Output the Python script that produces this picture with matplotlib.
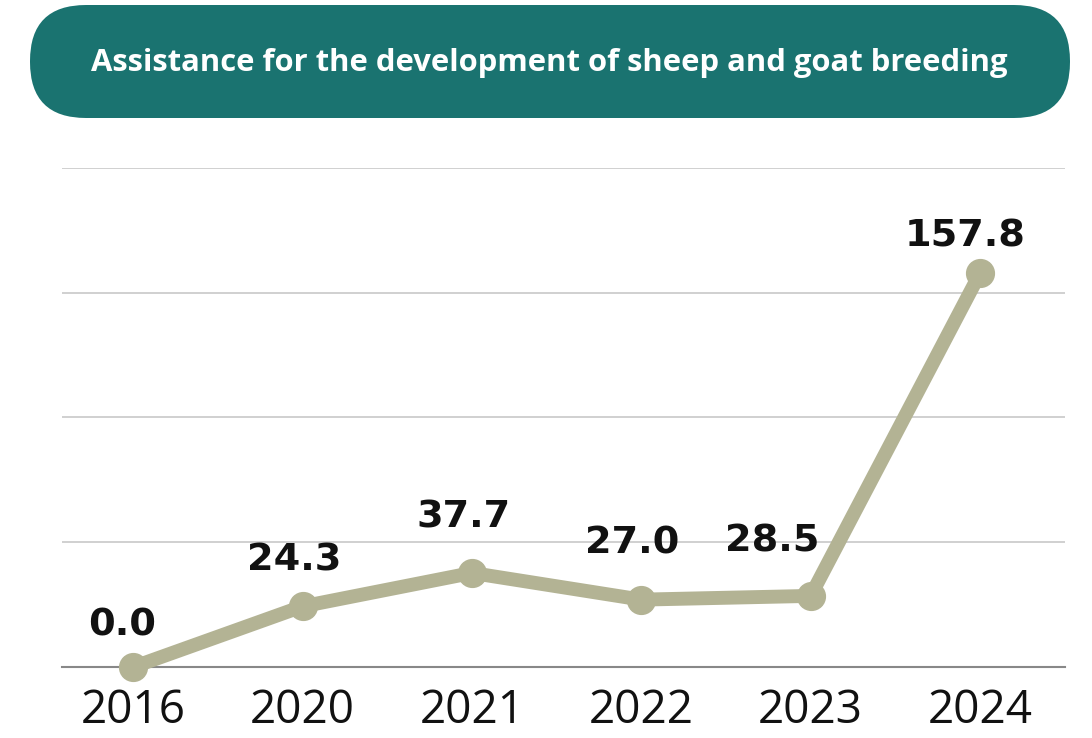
import matplotlib
matplotlib.use("Agg")
import matplotlib.pyplot as plt
from matplotlib.patches import FancyBboxPatch

years = ["2016", "2020", "2021", "2022", "2023", "2024"]
values = [0.0, 24.3, 37.7, 27.0, 28.5, 157.8]
title = "Assistance for the development of sheep and goat breeding"

# label nudges in pixels (layout only)
label_dx = [-11, -8, -8, -9, -38, -15]
label_dy = [42, 46, 55, 56, 54, 37]

plt.rcParams['font.family'] = ['Open Sans', 'DejaVu Sans']

fig = plt.figure(figsize=(10.92, 7.38), dpi=100)

# overlay in pixel coords for the title pill
bg = fig.add_axes([0, 0, 1, 1])
bg.set_xlim(0, 1092)
bg.set_ylim(738, 0)
bg.axis("off")
bg.add_patch(FancyBboxPatch((30, 5), 1040, 113,
                            boxstyle="round,pad=0,rounding_size=56",
                            facecolor="#1a7370", edgecolor="none"))
bg.text(549, 63, title, color="white", fontsize=22.3, fontweight="bold",
        ha="center", va="center")

ax = fig.add_axes([0.0568, 0.0962, 0.9182, 0.6762])
ax.patch.set_alpha(0)

x = range(len(years))
ax.plot(x, values, color="#b3b394", lw=10, marker="o", ms=20,
        solid_capstyle="round", zorder=3, clip_on=False)

for i, v in enumerate(values):
    ax.annotate(f"{v:.1f}", (i, v), xytext=(label_dx[i], label_dy[i]),
                textcoords="offset pixels", ha="center", va="center",
                fontsize=27.5, fontweight="bold", color="#111111",
                family="DejaVu Sans")

ax.set_ylim(0, 200)
ax.set_xlim(-0.42, 5.5)
ax.set_yticks([0, 50, 100, 150, 200])
ax.set_yticklabels([])
ax.grid(axis="y", color="#c8c8c8", lw=1.2)
ax.set_xticks(list(x))
ax.set_xticklabels(years, fontsize=33, color="#111111")
ax.tick_params(axis="both", length=0)
ax.tick_params(axis="x", pad=15)
for s in ["top", "right", "left"]:
    ax.spines[s].set_visible(False)
ax.spines["bottom"].set_color("#888888")
ax.spines["bottom"].set_linewidth(1.5)
ax.set_axisbelow(True)

fig.savefig("out.png", dpi=100)
